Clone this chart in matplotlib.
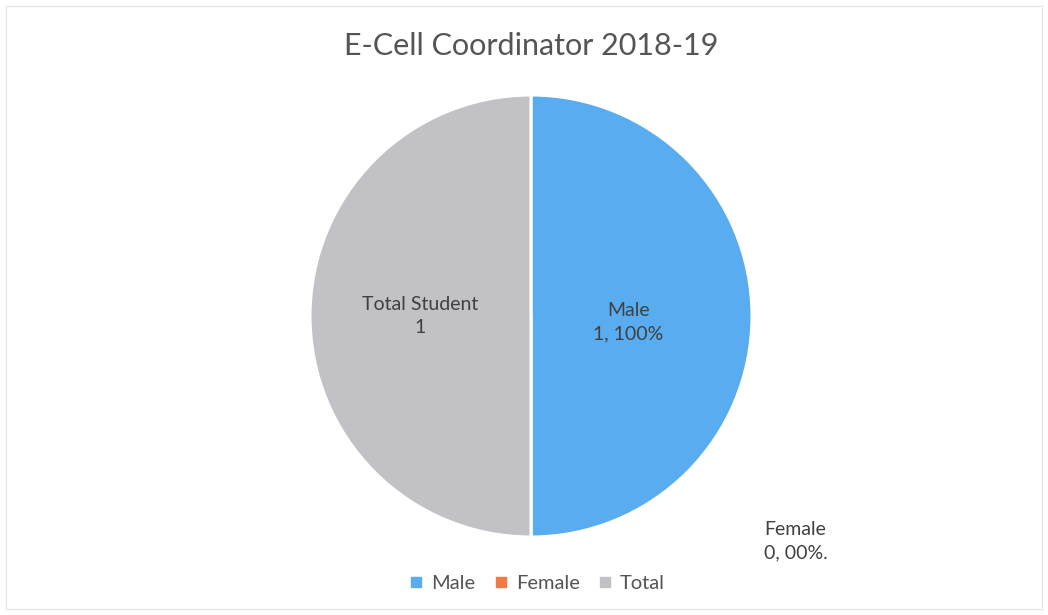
import matplotlib.pyplot as plt
from matplotlib.lines import Line2D
from matplotlib.patches import Rectangle

# data
categories = ["Male", "Female", "Total"]
values = [1, 0, 1]
label_texts = ["Male\n1, 100%", "Female\n0, 00%.", "Total Student\n1"]
colors = ["#5aacf0", "#f07a45", "#c2c2c6"]
title = "E-Cell Coordinator 2018-19"

plt.rcParams['font.family'] = ['Lato', 'DejaVu Sans']

W, H = 1048, 615
fig = plt.figure(figsize=(W / 100, H / 100), dpi=100)
fig.patch.set_facecolor("white")

# faint chart border
fig.add_artist(Rectangle((6 / W, 6 / H), 1 - 12 / W, 1 - 12 / H, transform=fig.transFigure,
                         fill=False, edgecolor="#e4e4e4", lw=0.8))

# pie axes, placed in pixels
cx, cy, r = 531, 316, 221
ax = fig.add_axes([(cx - r) / W, (H - cy - r) / H, 2 * r / W, 2 * r / H])
ax.pie(values, colors=colors, startangle=90, counterclock=False,
       wedgeprops=dict(edgecolor="white", linewidth=2.2))
ax.set_xlim(-1, 1)
ax.set_ylim(-1, 1)
ax.set_aspect("equal")

txt_color = "#404040"
ax.text(0.44, -0.03, label_texts[0], ha="center", va="center", fontsize=14, color=txt_color, linespacing=1.45)
ax.text(-0.50, 0.0, label_texts[2], ha="center", va="center", fontsize=14, color=txt_color, linespacing=1.45)
ax.text(1.055, -1.02, label_texts[1], ha="left", va="center", multialignment="left", fontsize=14,
        color=txt_color, linespacing=1.45, clip_on=False)

fig.text(cx / W, 1 - 46 / H, title, ha="center", va="center", fontsize=22, color="#555555")

handles = [Line2D([], [], marker="s", ls="none", color=c, markersize=6.5) for c in colors]
fig.legend(handles, categories, loc="center", bbox_to_anchor=(537 / W, 1 - 583 / H), ncol=3,
           frameon=False, fontsize=14.5, handlelength=0.7, handletextpad=0.4, columnspacing=0.9,
           labelcolor="#555555")

fig.savefig("out.png", dpi=100)
